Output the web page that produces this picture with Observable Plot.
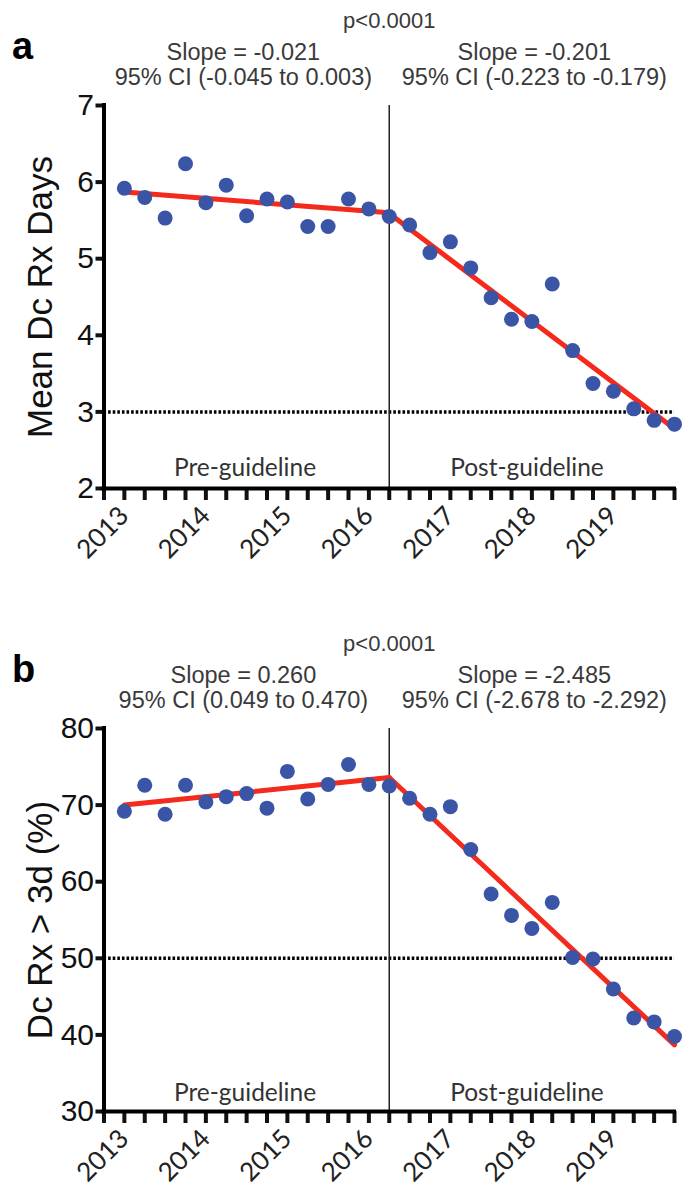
<!DOCTYPE html>
<html><head><meta charset="utf-8">
<script src="https://cdn.jsdelivr.net/npm/d3@7"></script>
<script src="https://cdn.jsdelivr.net/npm/@observablehq/plot@0.6"></script>
<style>body{margin:0;background:#fff;} svg{display:block;}</style>
</head><body><div id="chart"></div>
<script>
// Quarterly time points (2013 Q1 .. 2019 Q4)
const quarters = [2013, 2013.25, 2013.5, 2013.75, 2014, 2014.25, 2014.5, 2014.75,
  2015, 2015.25, 2015.5, 2015.75, 2016, 2016.25, 2016.5, 2016.75,
  2017, 2017.25, 2017.5, 2017.75, 2018, 2018.25, 2018.5, 2018.75,
  2019, 2019.25, 2019.5, 2019.75];
const xTicks = [2012.75, ...quarters];
const yearLabels = [2013, 2014, 2015, 2016, 2017, 2018, 2019];

// Panel a: mean discharge Rx days
const meanDays = [5.92, 5.80, 5.53, 6.24, 5.73, 5.96, 5.56, 5.78, 5.74, 5.42, 5.42, 5.78, 5.65, 5.55,
  5.44, 5.08, 5.22, 4.88, 4.49, 4.21, 4.18, 4.67, 3.80, 3.37, 3.27, 3.04, 2.89, 2.84];
const daysPreFit = [[2013, 5.87], [2016.25, 5.60]];
const daysPostFit = [[2016.25, 5.59], [2019.75, 2.78]];
const daysTicks = [2, 3, 4, 5, 6, 7];

// Panel b: % of discharge Rx > 3 days
const pctOver3 = [69.2, 72.6, 68.8, 72.6, 70.4, 71.1, 71.5, 69.6, 74.4, 70.8, 72.7, 75.3, 72.7, 72.5,
  70.9, 68.8, 69.8, 64.2, 58.4, 55.6, 53.9, 57.3, 50.1, 49.9, 46.0, 42.2, 41.7, 39.8];
const pctPreFit = [[2013, 70.0], [2016.25, 73.6]];
const pctPostFit = [[2016.25, 73.6], [2019.75, 38.7]];
const pctTicks = [30, 40, 50, 60, 70, 80];

const guideline = 2016.25;

function panel(cfg) {
  const data = quarters.map((q, i) => ({x: q, y: cfg.values[i]}));
  const ann = (x, t, dy, size) => Plot.text([t], {x: () => x, text: d => d, frameAnchor: "top",
    dy, lineAnchor: "middle", textAnchor: "middle", fontSize: size, fill: "#3a3a3a"});
  const phase = (x, t) => Plot.text([t], {x: () => x, text: d => d, frameAnchor: "bottom", dy: cfg.phaseDy,
    lineAnchor: "middle", textAnchor: "middle", fontSize: 24.5, fill: "#333", fontFamily: "Lato, 'Open Sans', sans-serif"});
  return Plot.plot({
    width: 685, height: cfg.height,
    marginTop: cfg.marginTop, marginBottom: cfg.marginBottom, marginLeft: 103.5, marginRight: 11,
    style: {fontFamily: "'Liberation Sans', Arial, sans-serif", color: "#111", background: "#fff"},
    x: {domain: [2012.75, 2019.75]},
    y: {domain: cfg.domain},
    marks: [
      Plot.ruleY([cfg.ref], {stroke: "#000", strokeWidth: 3.5, strokeDasharray: "2.6,2"}),
      Plot.ruleX([guideline], {stroke: "#222", strokeWidth: 1.5}),
      Plot.line(cfg.preFit, {x: d => d[0], y: d => d[1], stroke: "#f42a1c", strokeWidth: 5}),
      Plot.line(cfg.postFit, {x: d => d[0], y: d => d[1], stroke: "#f42a1c", strokeWidth: 5}),
      Plot.dot(data, {x: "x", y: "y", r: 7.5, fill: "#3a55a6", stroke: "none"}),
      Plot.axisY({ticks: cfg.ticks, tickSize: 8, strokeWidth: 4, fontSize: 30, tickPadding: 2, label: null,
        fill: "#111", tickFormat: d => String(d)}),
      Plot.axisX({ticks: xTicks, tickSize: 12, strokeWidth: 4, label: null, fontSize: 26, tickRotate: -45,
        tickPadding: 11, fill: "#222", fontFamily: "Lato, 'Open Sans', sans-serif",
        tickFormat: d => yearLabels.includes(d) ? String(d) : ""}),
      Plot.ruleX([2012.75], {stroke: "#000", strokeWidth: 4, strokeLinecap: "square"}),
      Plot.ruleY([cfg.domain[0]], {stroke: "#000", strokeWidth: 4, strokeLinecap: "square"}),
      Plot.text([cfg.yLabel], {frameAnchor: "left", dx: -63, rotate: -90, textAnchor: "middle",
        lineAnchor: "middle", fontSize: 35, fill: "#111"}),
      Plot.text([cfg.letter], {frameAnchor: "top-left", dx: -92, dy: -59, textAnchor: "start",
        lineAnchor: "middle", fontSize: 38, fontWeight: "bold", fill: "#000"}),
      ann(guideline, "p<0.0001", -85, 22),
      ann(2014.46, cfg.slopes[0], -53, 23.5),
      ann(2014.46, cfg.cis[0], -28, 23.5),
      ann(2018.03, cfg.slopes[1], -53, 23.5),
      ann(2018.03, cfg.cis[1], -28, 23.5),
      phase(2014.48, "Pre-guideline"),
      phase(2017.94, "Post-guideline")
    ]
  });
}

const root = document.getElementById("chart");
root.append(panel({
  values: meanDays, preFit: daysPreFit, postFit: daysPostFit, ticks: daysTicks, domain: [2, 7], ref: 3,
  height: 595, marginTop: 105, marginBottom: 107, yLabel: "Mean Dc Rx Days", letter: "a", phaseDy: -20,
  slopes: ["Slope = -0.021", "Slope = -0.201"],
  cis: ["95% CI (-0.045 to 0.003)", "95% CI (-0.223 to -0.179)"]
}));
root.append(panel({
  values: pctOver3, preFit: pctPreFit, postFit: pctPostFit, ticks: pctTicks, domain: [30, 80], ref: 50,
  height: 597, marginTop: 133, marginBottom: 81, yLabel: "Dc Rx > 3d (%)", letter: "b", phaseDy: -18,
  slopes: ["Slope = 0.260", "Slope = -2.485"],
  cis: ["95% CI (0.049 to 0.470)", "95% CI (-2.678 to -2.292)"]
}));
</script>
</body></html>
